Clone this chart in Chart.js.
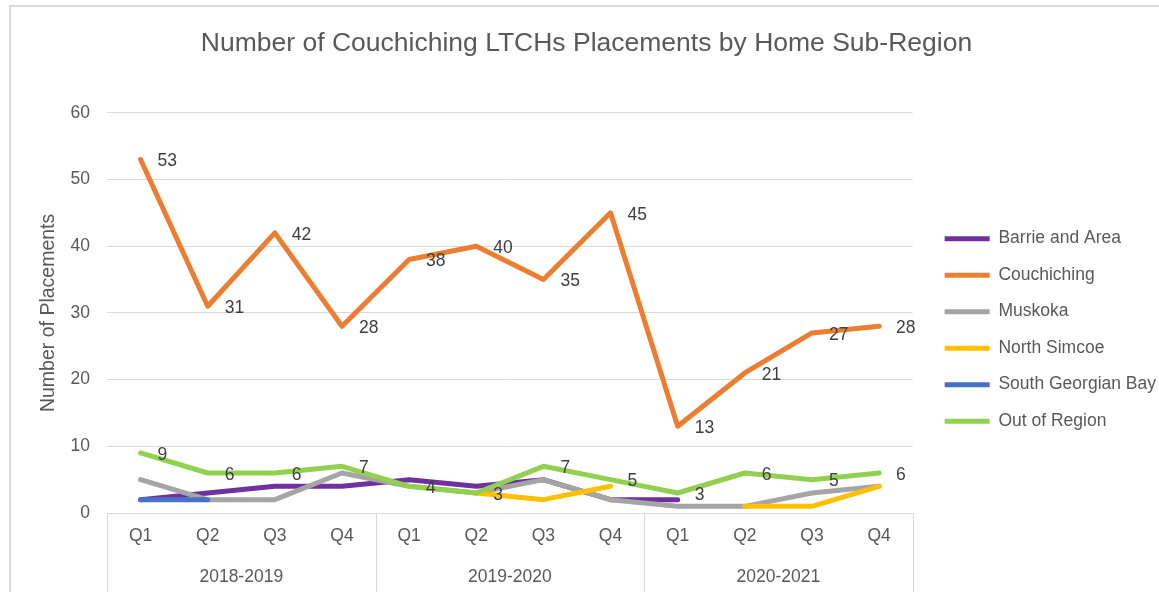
<!DOCTYPE html>
<html>
<head>
<meta charset="utf-8">
<title>Couchiching LTCHs Placements</title>
<script src="https://cdn.jsdelivr.net/npm/chart.js@4.4.0/dist/chart.umd.min.js"></script>
<style>
  body { margin: 0; background: #fff; }
  canvas { display: block; }
</style>
</head>
<body>
<canvas id="chart" width="1159" height="592"></canvas>
<script>
// ---------------- DATA ----------------
const years = ["2018-2019", "2019-2020", "2020-2021"];
const quarters = ["Q1", "Q2", "Q3", "Q4"];

const barrie        = [2, 3, 4, 4, 5, 4, 5, 2, 2, null, null, null];
const couchiching   = [53, 31, 42, 28, 38, 40, 35, 45, 13, 21, 27, 28];
const muskoka       = [5, 2, 2, 6, 4, 3, 5, 2, 1, 1, 3, 4];
const northSimcoe   = [null, null, null, null, null, 3, 2, 4, null, 1, 1, 4];
const southGeorgian = [2, 2, null, null, null, null, null, null, null, null, null, null];
const outOfRegion   = [9, 6, 6, 7, 4, 3, 7, 5, 3, 6, 5, 6];

const seriesNames  = ["Barrie and Area", "Couchiching", "Muskoka", "North Simcoe", "South Georgian Bay", "Out of Region"];
const seriesData   = [barrie, couchiching, muskoka, northSimcoe, southGeorgian, outOfRegion];
const seriesColors = ["#7030a0", "#ed7d31", "#a5a5a5", "#ffc000", "#4472c4", "#92d050"];
const labelledSeries = ["Couchiching", "Out of Region"];

const yTicks = [0, 10, 20, 30, 40, 50, 60];

// one category per quarter, grouped by fiscal year
const categories = [];
years.forEach(y => quarters.forEach(q => categories.push(q)));

const FONT = "'Liberation Sans', Arial, sans-serif";
const TEXT = "#595959";
const GRID = "#d9d9d9";

Chart.defaults.font.family = FONT;
Chart.defaults.color = TEXT;

// ---------------- PLUGINS ----------------
// frame + year groups under the quarter labels
const groupAxis = {
    id: "groupAxis",
    beforeDraw(chart) {
        const { ctx, width, height } = chart;
        ctx.save();
        ctx.fillStyle = "#fff";
        ctx.fillRect(0, 0, width, height);
        ctx.strokeStyle = GRID;
        ctx.lineWidth = 2;
        ctx.strokeRect(10, 6, width + 20, height + 20);
        ctx.restore();
    },
    afterDraw(chart) {
        const { ctx, height } = chart;
        const x = chart.scales.x;
        const step = x.getPixelForValue(1) - x.getPixelForValue(0);
        ctx.save();
        ctx.strokeStyle = GRID;
        ctx.lineWidth = 1;
        ctx.fillStyle = TEXT;
        ctx.font = "17.5px " + FONT;
        ctx.textAlign = "center";
        ctx.textBaseline = "middle";
        years.forEach((yr, g) => {
            const first = g * quarters.length;
            const last = first + quarters.length - 1;
            const left = x.getPixelForValue(first) - step / 2;
            const right = x.getPixelForValue(last) + step / 2;
            [left, right].forEach(px => {
                const xx = Math.round(px) + 0.5;
                ctx.beginPath();
                ctx.moveTo(xx, x.top);
                ctx.lineTo(xx, height);
                ctx.stroke();
            });
            ctx.fillText(yr, (left + right) / 2, x.top + 64);
        });
        ctx.restore();
    }
};

// value labels to the right of the points
const valueLabels = {
    id: "valueLabels",
    afterDatasetsDraw(chart) {
        const { ctx } = chart;
        ctx.save();
        ctx.font = "17.5px " + FONT;
        ctx.fillStyle = "#404040";
        ctx.textAlign = "left";
        ctx.textBaseline = "middle";
        chart.data.datasets.forEach((ds, i) => {
            if (!labelledSeries.includes(ds.label)) return;
            chart.getDatasetMeta(i).data.forEach((pt, j) => {
                const v = ds.data[j];
                if (v == null) return;
                ctx.fillText(v, pt.x + 17, pt.y + 2);
            });
        });
        ctx.restore();
    }
};

// move the legend block a little right and down
const legendNudge = {
    id: "legendNudge",
    afterLayout(chart) {
        const lg = chart.legend;
        lg.left += 13; lg.right += 13;
        lg.top += 17; lg.bottom += 17;
    }
};

// ---------------- CHART ----------------
const datasets = seriesNames.map((name, i) => ({
    label: name,
    data: seriesData[i],
    borderColor: seriesColors[i],
    backgroundColor: seriesColors[i],
    borderWidth: 5,
    borderCapStyle: "round",
    borderJoinStyle: "round",
    pointRadius: 0,
    tension: 0,
    spanGaps: false,
    order: seriesNames.length - i
}));

new Chart(document.getElementById("chart"), {
    type: "line",
    data: { labels: categories, datasets },
    plugins: [groupAxis, valueLabels, legendNudge],
    options: {
        responsive: false,
        animation: false,
        layout: { padding: { left: 20, right: 6, top: 0, bottom: 0 } },
        plugins: {
            title: {
                display: true,
                text: "Number of Couchiching LTCHs Placements by Home Sub-Region",
                color: TEXT,
                font: { size: 26.5, weight: "normal" },
                padding: { top: 28, bottom: 53 }
            },
            legend: {
                position: "right",
                fullSize: false,
                labels: {
                    usePointStyle: true,
                    pointStyle: "line",
                    pointStyleWidth: 45,
                    boxHeight: 4,
                    padding: 19,
                    color: TEXT,
                    font: { size: 17.5 },
                    sort: (a, b) => a.datasetIndex - b.datasetIndex
                }
            },
            tooltip: { enabled: false }
        },
        scales: {
            x: {
                offset: true,
                grid: { display: false, drawTicks: false },
                border: { display: true, color: GRID, width: 1 },
                ticks: { padding: 13, font: { size: 17.5 }, color: TEXT, maxRotation: 0, autoSkip: false },
                afterFit: s => { s.height = 79; }
            },
            y: {
                min: 0,
                max: 60,
                afterBuildTicks: s => { s.ticks = yTicks.map(v => ({ value: v })); },
                grid: { color: GRID, drawTicks: false },
                border: { display: false },
                ticks: { padding: 17, font: { size: 17.5 }, color: TEXT },
                title: {
                    display: true,
                    text: "Number of Placements",
                    color: TEXT,
                    font: { size: 19.5 },
                    padding: { top: 17, bottom: 0 }
                },
                afterFit: s => { s.width = 87; }
            }
        }
    }
});
</script>
</body>
</html>
